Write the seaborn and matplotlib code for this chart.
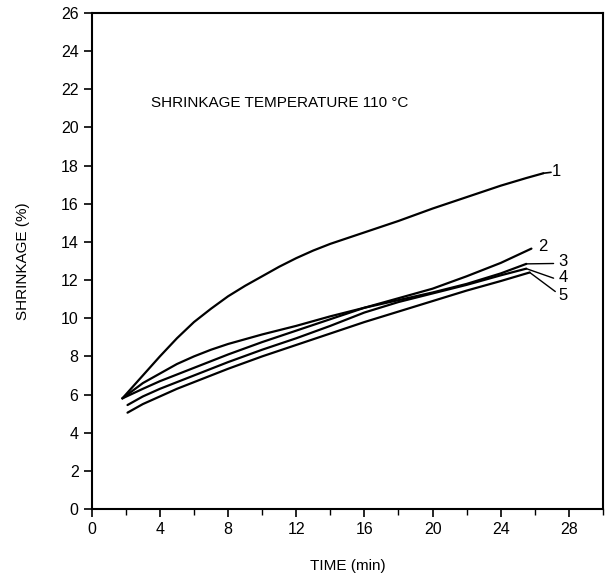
import numpy as np
import pandas as pd
import seaborn as sns
import matplotlib.pyplot as plt
from matplotlib.ticker import MultipleLocator

# Shrinkage (%) versus time (min) at 110 °C for five samples
t1 = [1.8, 3, 4, 5, 6, 7, 8, 9, 10, 11, 12, 13, 14, 16, 18, 20, 22, 24, 25.5, 26.5]
v1 = [5.8, 7.0, 8.0, 8.95, 9.8, 10.5, 11.15, 11.7, 12.2, 12.7, 13.15, 13.55, 13.9,
      14.5, 15.1, 15.75, 16.35, 16.95, 17.35, 17.6]

t2 = [1.8, 3, 4, 5, 6, 7, 8, 10, 12, 14, 16, 18, 20, 22, 24, 25.8]
v2 = [5.8, 6.3, 6.7, 7.05, 7.4, 7.75, 8.1, 8.75, 9.35, 9.95, 10.55, 11.05, 11.55,
      12.2, 12.9, 13.65]

t3 = [1.8, 3, 4, 5, 6, 7, 8, 10, 12, 14, 16, 18, 20, 22, 24, 25.5]
v3 = [5.8, 6.6, 7.1, 7.6, 8.0, 8.35, 8.65, 9.15, 9.6, 10.1, 10.55, 10.95, 11.35,
      11.8, 12.35, 12.85]

t4 = [2.1, 3, 4, 5, 6, 7, 8, 10, 12, 14, 16, 18, 20, 22, 24, 25.5]
v4 = [5.45, 5.9, 6.3, 6.65, 7.0, 7.35, 7.7, 8.35, 8.95, 9.6, 10.3, 10.85, 11.3,
      11.75, 12.25, 12.6]

t5 = [2.1, 3, 4, 5, 6, 7, 8, 10, 12, 14, 16, 18, 20, 22, 24, 25.7]
v5 = [5.05, 5.5, 5.9, 6.3, 6.65, 7.0, 7.35, 8.0, 8.6, 9.2, 9.8, 10.35, 10.9,
      11.45, 11.95, 12.4]

curve_names = ["1", "2", "3", "4", "5"]
times = [t1, t2, t3, t4, t5]
values = [v1, v2, v3, v4, v5]

x_ticks = [0, 4, 8, 12, 16, 20, 24, 28]
y_ticks = list(range(0, 27, 2))

df = pd.concat(
    [pd.DataFrame({"time": t, "shrinkage": v, "curve": n})
     for n, t, v in zip(curve_names, times, values)],
    ignore_index=True,
)

sns.set_style("ticks")
plt.rcParams["font.family"] = ["Liberation Sans", "DejaVu Sans"]
plt.rcParams["text.color"] = "black"
plt.rcParams["axes.labelcolor"] = "black"

fig = plt.figure(figsize=(6.05, 5.79), dpi=100)
ax = fig.add_axes([0.1516, 0.1209, 0.8451, 0.8566])

sns.lineplot(data=df, x="time", y="shrinkage", hue="curve",
             palette=["black"] * 5, linewidth=1.6, legend=False,
             sort=False, estimator=None, ax=ax)
for ln in ax.lines:
    ln.set_solid_joinstyle("round")

ax.set_xlim(0, 30)
ax.set_ylim(0, 26)
ax.set_xticks(x_ticks)
ax.set_yticks(y_ticks)
ax.xaxis.set_minor_locator(MultipleLocator(2))
ax.tick_params(axis="both", which="major", direction="out", length=6,
               width=1.2, labelsize=11.5, color="black", labelcolor="black")
ax.tick_params(axis="x", which="minor", direction="out", length=4,
               width=1.0, color="black")
for s in ax.spines.values():
    s.set_visible(True)
    s.set_color("black")
    s.set_linewidth(1.5)

ax.set_xlabel("TIME (min)", fontsize=11, labelpad=16)
ax.set_ylabel("SHRINKAGE (%)", fontsize=11, labelpad=22)

ax.text(3.5, 21.3, "SHRINKAGE TEMPERATURE 110 °C", fontsize=11,
        va="center", ha="left")

# curve labels with short leader lines
lbl_kw = dict(fontsize=12, va="center", ha="left")
ax.plot([t1[-1], 26.95], [v1[-1], 17.65], color="black", lw=1.2)
ax.text(27.0, 17.7, "1", **lbl_kw)
ax.text(26.2, 13.75, "2", **lbl_kw)
ax.plot([t3[-1], 27.1], [v3[-1], 12.87], color="black", lw=1.0)
ax.text(27.4, 13.0, "3", **lbl_kw)
ax.plot([t4[-1], 27.1], [v4[-1], 12.1], color="black", lw=1.0)
ax.text(27.4, 12.15, "4", **lbl_kw)
ax.plot([t5[-1], 27.2], [v5[-1], 11.4], color="black", lw=1.0)
ax.text(27.4, 11.2, "5", **lbl_kw)

fig.savefig("out.png", dpi=100)
